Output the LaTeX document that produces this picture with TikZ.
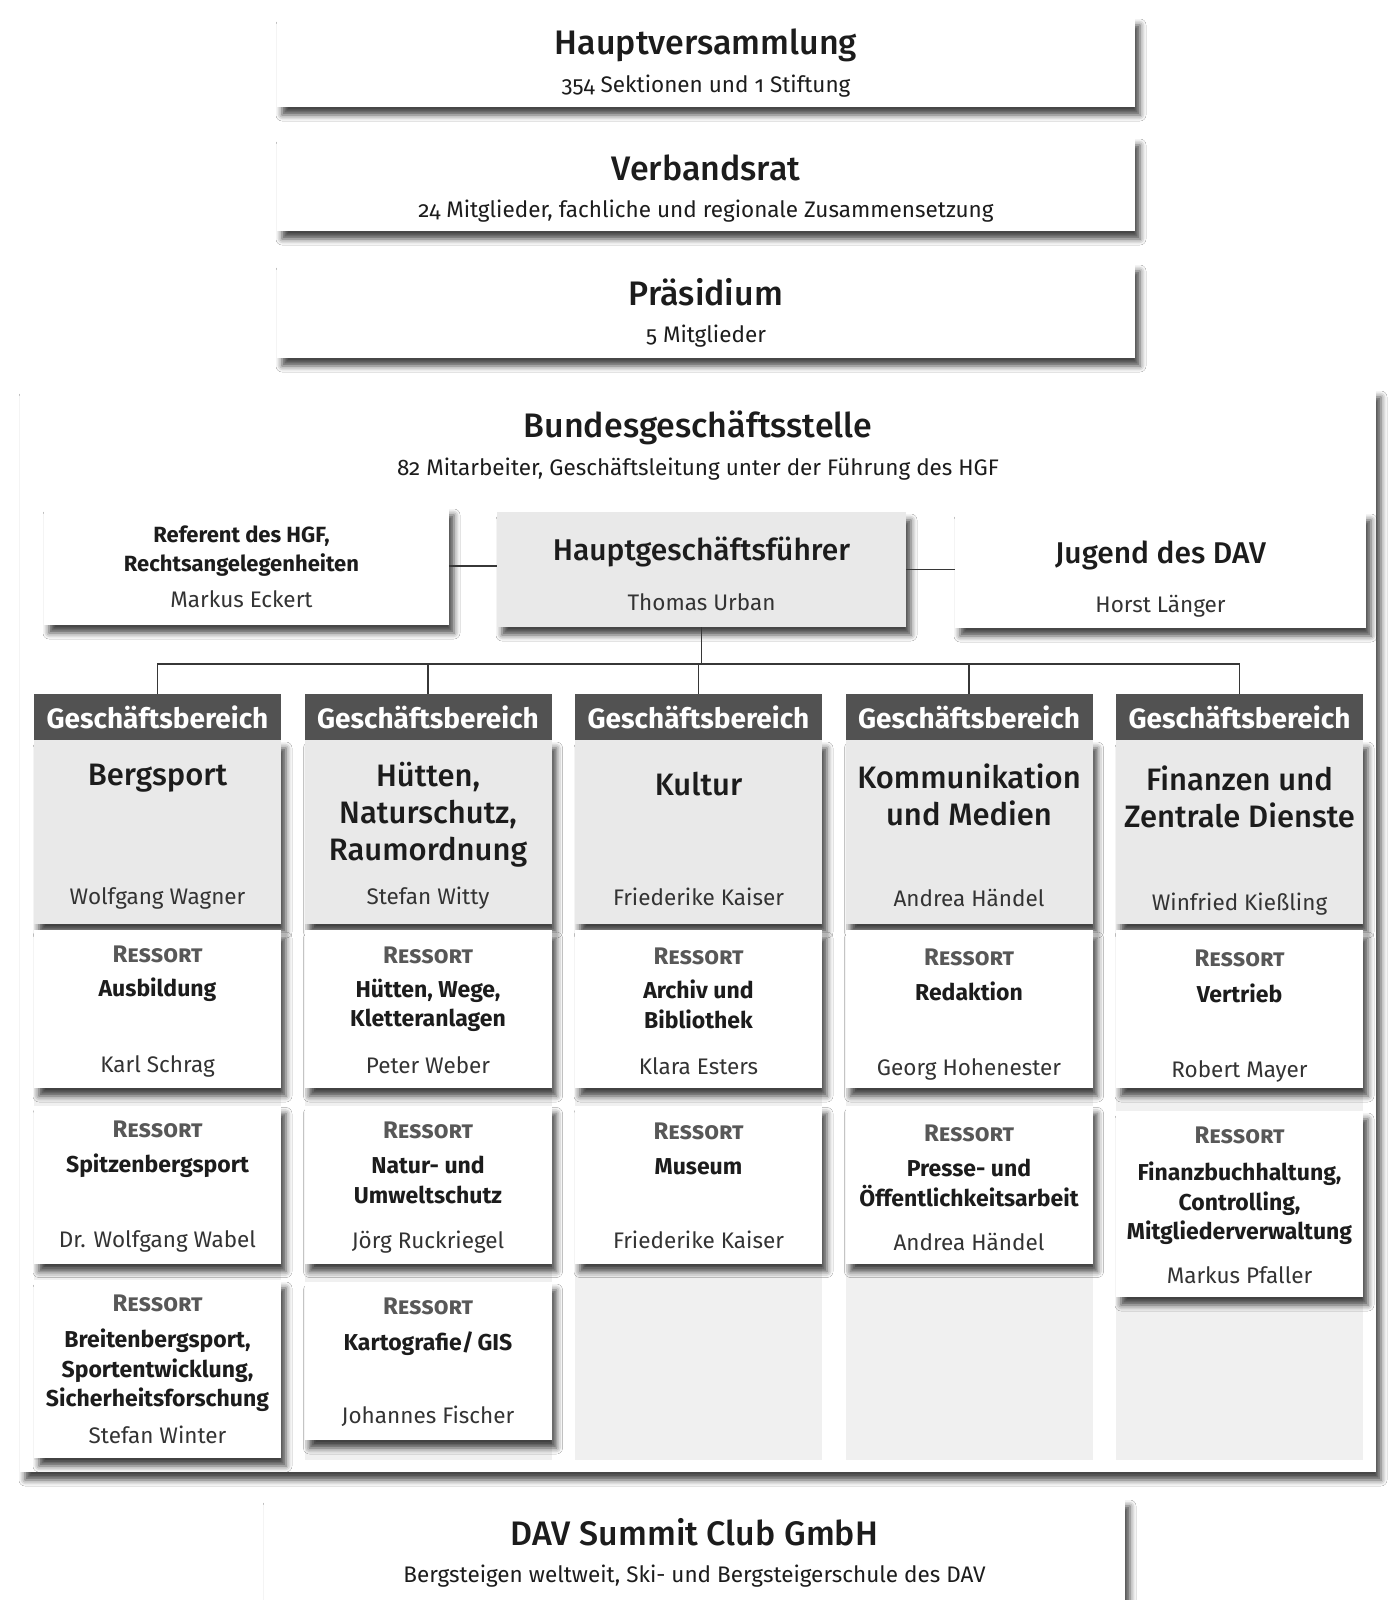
\documentclass[tikz,border=0pt]{standalone}
\usepackage{fontspec}
\setmainfont{Fira Sans}[Numbers=OldStyle]
\newfontfamily\mittel{Fira Sans Medium}[Numbers=OldStyle]
\usetikzlibrary{positioning,shadows.blur}
\definecolor{kopfgrau}{RGB}{82,82,82}
\definecolor{kartengrau}{RGB}{233,233,233}
\definecolor{spaltengrau}{RGB}{240,240,240}
\definecolor{schrift}{RGB}{28,28,28}
\definecolor{ressortgrau}{RGB}{88,88,88}
\definecolor{liniengrau}{RGB}{55,55,55}

\begin{document}
\begin{tikzpicture}[x=1pt,y=-1pt]
        \tikzstyle{kasten}=[rectangle, inner sep=0, fill=white, blur shadow={shadow xshift=5pt, shadow yshift=-8pt, shadow blur radius=6pt, shadow opacity=72}]
        \tikzstyle{kasten_grau}=[kasten, fill=kartengrau]
        \tikzstyle{titel}=[inner sep=0, anchor=north, text=schrift, font={\mittel\fontsize{34}{40}\selectfont}, execute at begin node={\rule{0pt}{34pt}}]
        \tikzstyle{untertitel}=[inner sep=0, anchor=north, text=schrift, font={\fontsize{22.5}{28}\selectfont}, execute at begin node={\rule{0pt}{23pt}}]
        \tikzstyle{person}=[untertitel, text=schrift!90]
        \tikzstyle{leitung}=[inner sep=0, anchor=north, text=schrift, font={\mittel\fontsize{30}{36}\selectfont}, execute at begin node={\rule{0pt}{30pt}}]
        \tikzstyle{fett}=[inner sep=0, anchor=north, align=center, text=schrift, font={\bfseries\fontsize{22}{29}\selectfont}, execute at begin node={\rule{0pt}{22pt}}]
        \tikzstyle{bereich_kopf}=[rectangle, inner sep=0, fill=kopfgrau, minimum width=247pt, minimum height=46pt]
        \tikzstyle{bereich_kopf_text}=[inner sep=0, anchor=north, text=white, font={\bfseries\fontsize{28}{34}\selectfont}, execute at begin node={\rule{0pt}{28pt}}]
        \tikzstyle{bereich}=[kasten, fill=kartengrau, minimum width=247pt, minimum height=184pt]
        \tikzstyle{bereich_titel}=[inner sep=0, anchor=north, align=center, text=schrift, font={\mittel\fontsize{31}{37}\selectfont}, execute at begin node={\rule{0pt}{31pt}}]
        \tikzstyle{spalte}=[rectangle, inner sep=0, fill=spaltengrau, minimum width=247pt, minimum height=720pt]
        \tikzstyle{ressort}=[kasten, minimum width=247pt, minimum height=158pt]
        \tikzstyle{ressort_kopf}=[inner sep=0, anchor=north, text=ressortgrau, font={\bfseries\scshape\fontsize{24}{28}\selectfont}, execute at begin node={\rule{0pt}{24pt}}]
        \tikzstyle{ressort_titel}=[inner sep=0, anchor=north, align=center, text=schrift, font={\bfseries\fontsize{23}{29.5}\selectfont}, execute at begin node={\rule{0pt}{23pt}}]
        \tikzstyle{linie}=[draw=liniengrau, line width=1.6pt]
        \fill[white] (0,0) rectangle (1393,1600);
        \useasboundingbox (0,0) rectangle (1393,1600);
        \node (bgs) [kasten, minimum width=1356pt, minimum height=1083pt] at (698,930.5) {};
        \node (bgs_titel) [titel, below=14pt of bgs.north] {Bundesgeschäftsstelle};
        \node (bgs_text) [untertitel, below=63pt of bgs.north] {82 Mitarbeiter, Geschäftsleitung unter der Führung des HGF};
        \node (hv) [kasten, minimum width=858pt, minimum height=90pt] at (706,62) {};
        \node (hv_titel) [titel, below=4pt of hv.north] {Hauptversammlung};
        \node (hv_text) [untertitel, below=53pt of hv.north] {354 Sektionen und 1 Stiftung};
        \node (vr) [kasten, minimum width=858pt, minimum height=94pt] at (706,184) {};
        \node (vr_titel) [titel, below=9pt of vr.north] {Verbandsrat};
        \node (vr_text) [untertitel, below=57pt of vr.north] {24 Mitglieder, fachliche und regionale Zusammensetzung};
        \node (pr) [kasten, minimum width=858pt, minimum height=95pt] at (706,310.5) {};
        \node (pr_titel) [titel, below=8pt of pr.north] {Präsidium};
        \node (pr_text) [untertitel, below=56pt of pr.north] {5 Mitglieder};
        \node (ref) [kasten, minimum width=405pt, minimum height=118pt] at (246.5,566) {};
        \node (ref_titel) [fett, below=19pt of ref.north, xshift=-5pt] {Referent des HGF,\\Rechtsangelegenheiten};
        \node (ref_name) [person, below=77pt of ref.north, xshift=-5pt] {Markus Eckert};
        \node (hgf) [kasten_grau, minimum width=409pt, minimum height=115pt] at (701.5,569.5) {};
        \node (hgf_titel) [leitung, below=18pt of hgf.north] {Hauptgeschäftsführer};
        \node (hgf_name) [person, below=75pt of hgf.north] {Thomas Urban};
        \node (jug) [kasten, minimum width=411pt, minimum height=116pt] at (1160.5,570) {};
        \node (jug_titel) [leitung, below=21pt of jug.north] {Jugend des DAV};
        \node (jug_name) [person, below=77pt of jug.north] {Horst Länger};
        \node (spalte_bergsport) [spalte] at (157.5,1100) {};
        \node (spalte_huetten) [spalte] at (428,1100) {};
        \node (spalte_kultur) [spalte] at (698.5,1100) {};
        \node (spalte_kommunikation) [spalte] at (969,1100) {};
        \node (spalte_finanzen) [spalte] at (1239.5,1100) {};
        \node (kopf_bergsport) [bereich_kopf] at (157.5,717) {};
        \node (kopf_huetten) [bereich_kopf] at (428,717) {};
        \node (kopf_kultur) [bereich_kopf] at (698.5,717) {};
        \node (kopf_kommunikation) [bereich_kopf] at (969,717) {};
        \node (kopf_finanzen) [bereich_kopf] at (1239.5,717) {};
        \node (kopf_bergsport_text) [bereich_kopf_text, below=6pt of kopf_bergsport.north] {Geschäftsbereich};
        \node (kopf_huetten_text) [bereich_kopf_text, below=6pt of kopf_huetten.north] {Geschäftsbereich};
        \node (kopf_kultur_text) [bereich_kopf_text, below=6pt of kopf_kultur.north] {Geschäftsbereich};
        \node (kopf_kommunikation_text) [bereich_kopf_text, below=6pt of kopf_kommunikation.north] {Geschäftsbereich};
        \node (kopf_finanzen_text) [bereich_kopf_text, below=6pt of kopf_finanzen.north] {Geschäftsbereich};
        \node (bergsport) [bereich] at (157.5,832) {};
        \node (bergsport_titel) [bereich_titel, below=14pt of bergsport.north] {Bergsport};
        \node (bergsport_name) [person, below=141pt of bergsport.north] {Wolfgang Wagner};
        \node (huetten) [bereich] at (428,832) {};
        \node (huetten_titel) [bereich_titel, below=22pt of huetten.north] {Hütten,\\Naturschutz,\\Raumordnung};
        \node (huetten_name) [person, below=141pt of huetten.north] {Stefan Witty};
        \node (kultur) [bereich] at (698.5,832) {};
        \node (kultur_titel) [bereich_titel, below=24pt of kultur.north] {Kultur};
        \node (kultur_name) [person, below=142pt of kultur.north] {Friederike Kaiser};
        \node (kommunikation) [bereich] at (969,832) {};
        \node (kommunikation_titel) [bereich_titel, below=24pt of kommunikation.north] {Kommunikation\\und Medien};
        \node (kommunikation_name) [person, below=143pt of kommunikation.north] {Andrea Händel};
        \node (finanzen) [bereich] at (1239.5,832) {};
        \node (finanzen_titel) [bereich_titel, below=26pt of finanzen.north] {Finanzen und\\Zentrale Dienste};
        \node (finanzen_name) [person, below=147pt of finanzen.north] {Winfried Kießling};
        \node (ausbildung) [ressort] at (157.5,1009) {};
        \node (ausbildung_kopf) [ressort_kopf, below=8pt of ausbildung.north] {Ressort};
        \node (ausbildung_titel) [ressort_titel, below=43pt of ausbildung.north] {Ausbildung};
        \node (ausbildung_name) [person, below=119pt of ausbildung.north] {Karl Schrag};
        \node (spitzenbergsport) [ressort] at (157.5,1184.5) {};
        \node (spitzenbergsport_kopf) [ressort_kopf, below=8pt of spitzenbergsport.north] {Ressort};
        \node (spitzenbergsport_titel) [ressort_titel, below=44pt of spitzenbergsport.north] {Spitzenbergsport};
        \node (spitzenbergsport_name) [person, below=119pt of spitzenbergsport.north] {Dr. Wolfgang Wabel};
        \node (breitenbergsport) [ressort, minimum height=178pt] at (157.5,1369) {};
        \node (breitenbergsport_kopf) [ressort_kopf, below=7pt of breitenbergsport.north] {Ressort};
        \node (breitenbergsport_titel) [ressort_titel, below=49pt of breitenbergsport.north] {Breitenbergsport,\\Sportentwicklung,\\Sicherheitsforschung};
        \node (breitenbergsport_name) [person, below=140pt of breitenbergsport.north] {Stefan Winter};
        \node (wege) [ressort] at (428,1009) {};
        \node (wege_kopf) [ressort_kopf, below=9pt of wege.north] {Ressort};
        \node (wege_titel) [ressort_titel, below=49pt of wege.north] {Hütten, Wege,\\Kletteranlagen};
        \node (wege_name) [person, below=120pt of wege.north] {Peter Weber};
        \node (naturschutz) [ressort] at (428,1184.5) {};
        \node (naturschutz_kopf) [ressort_kopf, below=9pt of naturschutz.north] {Ressort};
        \node (naturschutz_titel) [ressort_titel, below=51pt of naturschutz.north] {Natur- und\\Umweltschutz};
        \node (naturschutz_name) [person, below=120pt of naturschutz.north] {Jörg Ruckriegel};
        \node (kartografie) [ressort] at (428,1361) {};
        \node (kartografie_kopf) [ressort_kopf, below=8pt of kartografie.north] {Ressort};
        \node (kartografie_titel) [ressort_titel, below=45pt of kartografie.north] {Kartografie/\,GIS};
        \node (kartografie_name) [person, below=118pt of kartografie.north] {Johannes Fischer};
        \node (archiv) [ressort] at (698.5,1009) {};
        \node (archiv_kopf) [ressort_kopf, below=10pt of archiv.north] {Ressort};
        \node (archiv_titel) [ressort_titel, below=50pt of archiv.north] {Archiv und\\Bibliothek};
        \node (archiv_name) [person, below=121pt of archiv.north] {Klara Esters};
        \node (museum) [ressort] at (698.5,1184.5) {};
        \node (museum_kopf) [ressort_kopf, below=10pt of museum.north] {Ressort};
        \node (museum_titel) [ressort_titel, below=46pt of museum.north] {Museum};
        \node (museum_name) [person, below=120pt of museum.north] {Friederike Kaiser};
        \node (redaktion) [ressort] at (969,1009) {};
        \node (redaktion_kopf) [ressort_kopf, below=11pt of redaktion.north] {Ressort};
        \node (redaktion_titel) [ressort_titel, below=47pt of redaktion.north] {Redaktion};
        \node (redaktion_name) [person, below=122pt of redaktion.north] {Georg Hohenester};
        \node (presse) [ressort] at (969,1184.5) {};
        \node (presse_kopf) [ressort_kopf, below=12pt of presse.north] {Ressort};
        \node (presse_titel) [ressort_titel, below=54pt of presse.north] {Presse- und\\Öffentlichkeitsarbeit};
        \node (presse_name) [person, below=122pt of presse.north] {Andrea Händel};
        \node (vertrieb) [ressort] at (1239.5,1009) {};
        \node (vertrieb_kopf) [ressort_kopf, below=12pt of vertrieb.north] {Ressort};
        \node (vertrieb_titel) [ressort_titel, below=49pt of vertrieb.north] {Vertrieb};
        \node (vertrieb_name) [person, below=124pt of vertrieb.north] {Robert Mayer};
        \node (buchhaltung) [ressort, minimum height=186pt] at (1239.5,1204) {};
        \node (buchhaltung_kopf) [ressort_kopf, below=8pt of buchhaltung.north] {Ressort};
        \node (buchhaltung_titel) [ressort_titel, below=51pt of buchhaltung.north] {Finanzbuchhaltung,\\Controlling,\\Mitgliederverwaltung};
        \node (buchhaltung_name) [person, below=149pt of buchhaltung.north] {Markus Pfaller};
        \node (dav) [kasten, minimum width=861pt, minimum height=122pt] at (694.5,1559) {};
        \node (dav_titel) [titel, below=13pt of dav.north] {DAV Summit Club GmbH};
        \node (dav_text) [untertitel, below=61pt of dav.north] {Bergsteigen weltweit, Ski- und Bergsteigerschule des DAV};
        \coordinate (verteiler) at (700,664);
        \draw[linie] (ref.east) -- (ref.east -| hgf.west);
        \draw[linie] (hgf.east) -- (hgf.east -| jug.west);
        \draw[linie] (hgf.south) -- (hgf.south |- verteiler);
        \draw[linie] (kopf_bergsport.north) |- (verteiler) -| (kopf_finanzen.north);
        \draw[linie] (kopf_huetten.north) -- (kopf_huetten.north |- verteiler);
        \draw[linie] (kopf_kultur.north) -- (kopf_kultur.north |- verteiler);
        \draw[linie] (kopf_kommunikation.north) -- (kopf_kommunikation.north |- verteiler);
    \end{tikzpicture}
\end{document}
